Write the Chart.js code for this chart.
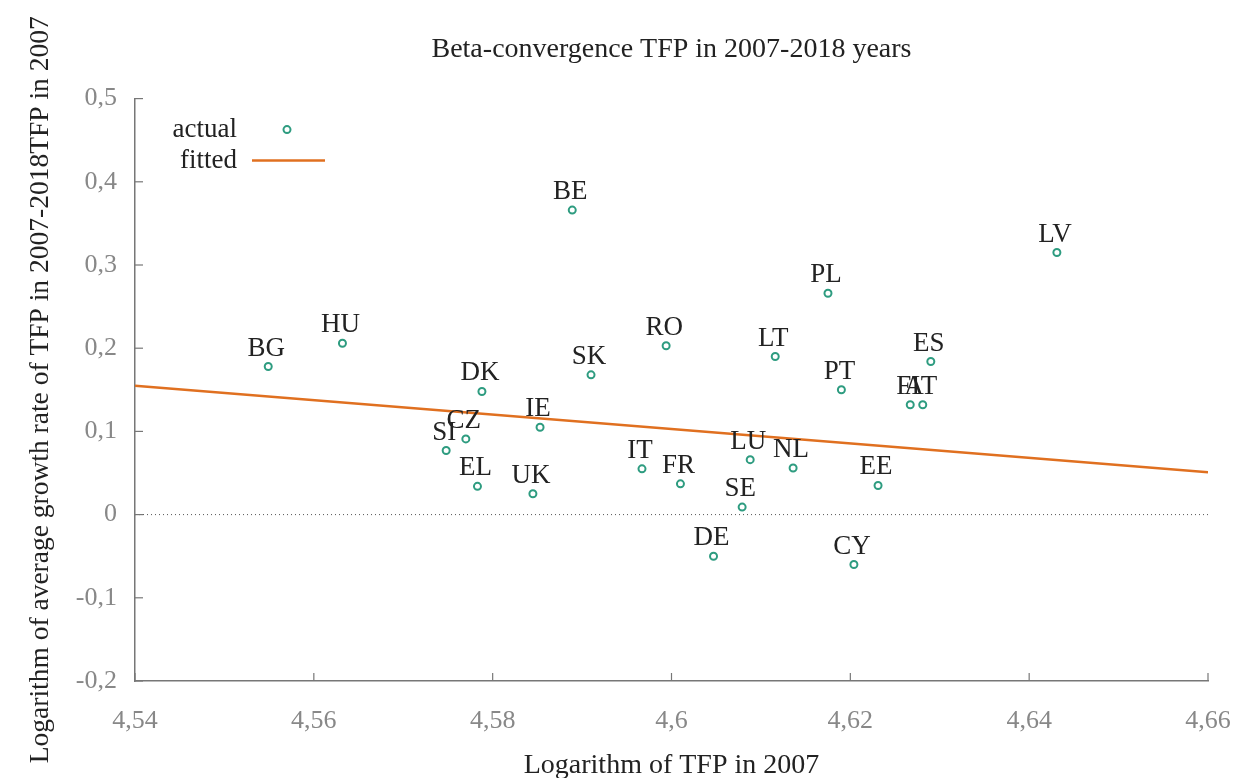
<!DOCTYPE html>
<html>
<head>
<meta charset="utf-8">
<script src="https://cdn.jsdelivr.net/npm/chart.js@4"></script>
<style>
  html, body { margin: 0; padding: 0; background: #fff; }
  #wrap { width: 1237px; height: 778px; }
</style>
</head>
<body>
<div id="wrap"><canvas id="betaChart" width="1237" height="778"></canvas></div>
<script>
// Country codes and values
const countries = ["BG", "HU", "BE", "DK", "SK", "RO", "LT", "PL", "LV", "ES", "PT", "FI", "AT",
                   "IE", "CZ", "SI", "EL", "UK", "IT", "FR", "LU", "NL", "SE", "DE", "EE", "CY"];
const tfp2007 = [4.5549, 4.5632, 4.5889, 4.5788, 4.5910, 4.5994, 4.6116, 4.6175, 4.6431, 4.6290, 4.6190, 4.6267, 4.6281,
                 4.5853, 4.5770, 4.5748, 4.5783, 4.5845, 4.5967, 4.6010, 4.6088, 4.6136, 4.6079, 4.6047, 4.6231, 4.6204];
const growthRate = [0.178, 0.206, 0.366, 0.148, 0.168, 0.203, 0.190, 0.266, 0.315, 0.184, 0.150, 0.132, 0.132,
                    0.105, 0.091, 0.077, 0.034, 0.025, 0.055, 0.037, 0.066, 0.056, 0.009, -0.050, 0.035, -0.060];
const fittedX = [4.54, 4.66];
const fittedY = [0.155, 0.051];
const zeroX = [4.54, 4.66];
const zeroY = [0, 0];

const serif = "'Liberation Serif', 'DejaVu Serif', serif";
const tickFmt = v => Number(v.toFixed(2)).toString().replace(".", ",");

// Country labels above each point
const pointLabels = {
    id: "pointLabels",
    afterDatasetsDraw(chart) {
        const ctx = chart.ctx;
        const meta = chart.getDatasetMeta(0);
        ctx.save();
        ctx.font = "27px " + serif;
        ctx.fillStyle = "#222";
        ctx.textAlign = "center";
        ctx.textBaseline = "alphabetic";
        meta.data.forEach((pt, i) => {
            ctx.fillText(countries[i], pt.x - 2, pt.y - 11);
        });
        ctx.restore();
    }
};

// Inward tick marks like gnuplot
const innerTicks = {
    id: "innerTicks",
    afterDraw(chart) {
        const ctx = chart.ctx;
        const xs = chart.scales.x, ys = chart.scales.y;
        ctx.save();
        ctx.strokeStyle = "#777";
        ctx.lineWidth = 1.2;
        xs.ticks.forEach(t => {
            const px = xs.getPixelForValue(t.value);
            ctx.beginPath();
            ctx.moveTo(px, ys.bottom);
            ctx.lineTo(px, ys.bottom - 8);
            ctx.stroke();
        });
        ys.ticks.forEach(t => {
            const py = ys.getPixelForValue(t.value);
            ctx.beginPath();
            ctx.moveTo(xs.left, py);
            ctx.lineTo(xs.left + 8, py);
            ctx.stroke();
        });
        ctx.restore();
    }
};

// Legend box in the top-left of the plot
const keyBox = {
    id: "keyBox",
    afterDraw(chart) {
        const ctx = chart.ctx;
        const a = chart.chartArea;
        const tx = a.left + 102;
        ctx.save();
        ctx.font = "27px " + serif;
        ctx.fillStyle = "#222";
        ctx.textAlign = "right";
        ctx.textBaseline = "middle";
        ctx.fillText("actual", tx, a.top + 31);
        ctx.fillText("fitted", tx, a.top + 62);
        ctx.strokeStyle = "#2e9c80";
        ctx.lineWidth = 2;
        ctx.beginPath();
        ctx.arc(tx + 50, a.top + 31, 3.5, 0, Math.PI * 2);
        ctx.stroke();
        ctx.strokeStyle = "#e07020";
        ctx.lineWidth = 2.5;
        ctx.beginPath();
        ctx.moveTo(tx + 15, a.top + 62);
        ctx.lineTo(tx + 88, a.top + 62);
        ctx.stroke();
        ctx.restore();
    }
};

new Chart(document.getElementById("betaChart"), {
    type: "scatter",
    data: {
        datasets: [
            {
                label: "actual",
                data: tfp2007.map((x, i) => ({ x: x, y: growthRate[i] })),
                pointStyle: "circle",
                pointRadius: 3.5,
                pointBorderWidth: 2,
                borderColor: "#2e9c80",
                backgroundColor: "#ffffff",
                order: 1
            },
            {
                label: "fitted",
                type: "line",
                data: fittedX.map((x, i) => ({ x: x, y: fittedY[i] })),
                borderColor: "#e07020",
                borderWidth: 2.5,
                pointRadius: 0,
                order: 2
            },
            {
                label: "zero",
                type: "line",
                data: zeroX.map((x, i) => ({ x: x, y: zeroY[i] })),
                borderColor: "#555",
                borderWidth: 1,
                borderDash: [1, 3],
                pointRadius: 0,
                order: 3
            }
        ]
    },
    options: {
        responsive: false,
        animation: false,
        layout: { padding: { left: 0, right: 29, top: 0, bottom: 0 } },
        plugins: {
            legend: { display: false },
            tooltip: { enabled: false },
            title: {
                display: true,
                fullSize: false,
                text: "Beta-convergence TFP in 2007-2018 years",
                color: "#222",
                font: { family: serif, size: 28, weight: "normal" },
                padding: { top: 33, bottom: 32 }
            }
        },
        scales: {
            x: {
                type: "linear",
                min: 4.54,
                max: 4.66,
                afterFit: s => { s.height = 97; s.paddingLeft = 0; s.paddingRight = 0; },
                grid: { display: false, drawTicks: false },
                border: { display: true, color: "#777", width: 1.5 },
                ticks: {
                    stepSize: 0.02,
                    padding: 25,
                    color: "#888",
                    font: { family: serif, size: 26 },
                    callback: tickFmt
                },
                title: {
                    display: true,
                    text: "Logarithm of TFP in 2007",
                    color: "#222",
                    font: { family: serif, size: 28 },
                    padding: { top: 0, bottom: -4 }
                }
            },
            y: {
                type: "linear",
                min: -0.2,
                max: 0.5,
                afterFit: s => { s.width = 135; s.paddingTop = 0; s.paddingBottom = 0; },
                grid: { display: false, drawTicks: false },
                border: { display: true, color: "#777", width: 1.5 },
                ticks: {
                    stepSize: 0.1,
                    padding: 18,
                    color: "#888",
                    font: { family: serif, size: 26 },
                    callback: tickFmt
                },
                title: {
                    display: true,
                    text: "Logarithm of average growth rate of TFP in 2007-2018TFP in 2007",
                    color: "#222",
                    font: { family: serif, size: 27.5 },
                    padding: { top: 24, bottom: 0 }
                }
            }
        }
    },
    plugins: [pointLabels, innerTicks, keyBox]
});
</script>
</body>
</html>
